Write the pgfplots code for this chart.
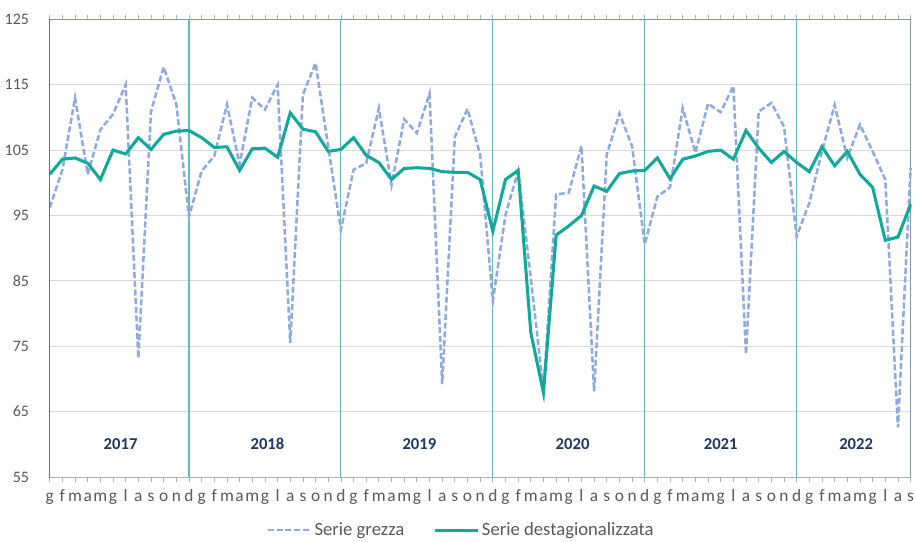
\documentclass[border=0pt]{standalone}
\usepackage{pgfplots}
\pgfplotsset{compat=1.18}
\usepackage{pgfplotstable}
\usepackage{fontspec}
\setmainfont{Carlito}
\definecolor{grezza}{RGB}{143,170,220}
\definecolor{destag}{RGB}{17,168,158}
\definecolor{sep}{RGB}{95,190,184}
\definecolor{gridc}{RGB}{217,217,217}
\definecolor{framec}{RGB}{132,151,176}
\definecolor{leftax}{RGB}{68,114,196}
\definecolor{tickc}{RGB}{89,89,89}
\definecolor{yearc}{RGB}{31,56,100}

\pgfplotstableread{
i grezza destag
0 96.2 101.3
1 102.0 103.6
2 113.0 103.8
3 101.3 103.0
4 108.1 100.5
5 110.5 105.0
6 115.0 104.4
7 73.2 106.9
8 110.9 105.1
9 117.7 107.4
10 112.0 107.9
11 94.8 108.0
12 101.8 106.9
13 104.1 105.4
14 112.0 105.5
15 102.8 101.9
16 113.0 105.2
17 111.2 105.3
18 115.0 103.9
19 75.5 110.7
20 113.5 108.2
21 118.3 107.8
22 105.5 104.8
23 92.8 105.1
24 102.0 106.9
25 103.0 104.2
26 111.4 103.1
27 99.7 100.5
28 109.7 102.2
29 107.6 102.3
30 113.6 102.2
31 69.2 101.7
32 107.0 101.6
33 111.3 101.6
34 104.3 100.5
35 81.9 92.6
36 95.1 100.5
37 101.8 101.9
38 85.5 77.1
39 68.2 67.9
40 98.2 92.0
41 98.5 93.4
42 105.6 95.0
43 68.1 99.5
44 104.3 98.7
45 110.6 101.4
46 105.6 101.8
47 90.6 101.9
48 97.9 103.8
49 99.3 100.6
50 111.4 103.6
51 104.6 104.1
52 112.1 104.8
53 110.8 105.0
54 114.8 103.6
55 73.8 108.0
56 110.9 105.3
57 112.2 103.1
58 108.6 104.8
59 91.8 103.1
60 96.9 101.7
61 104.8 105.5
62 111.9 102.6
63 103.8 104.8
64 108.9 101.3
65 104.8 99.3
66 100.5 91.2
67 62.6 91.7
68 102.3 96.7
}\datatable

\begin{document}
\begin{tikzpicture}
\begin{axis}[
  scale only axis,
  width=645.7pt, height=343.3pt,
  xmin=0, xmax=68, ymin=55, ymax=125,
  ytick={55,65,...,125},
  xtick={0,...,68},
  xticklabels={g,f,m,a,m,g,l,a,s,o,n,d,g,f,m,a,m,g,l,a,s,o,n,d,g,f,m,a,m,g,l,a,s,o,n,d,g,f,m,a,m,g,l,a,s,o,n,d,g,f,m,a,m,g,l,a,s,o,n,d,g,f,m,a,m,g,l,a,s},
  extra x ticks={11,23,35,47,59},
  extra x tick labels={},
  extra x tick style={grid=major, major grid style={draw=sep, line width=0.8pt}, tick style={draw=none}},
  ymajorgrids,
  major grid style={draw=gridc, line width=0.75pt},
  tick align=outside,
  major tick length=3.5pt,
  xtick style={draw=gridc!80!black, line width=0.6pt},
  ytick style={draw=none},
  axis line style={draw=framec, line width=0.75pt},
  yticklabel style={font=\fontsize{12}{14}\selectfont, text=tickc, xshift=-8.5pt},
  xticklabel style={font=\fontsize{13}{15}\selectfont, text=tickc, text height=1.6ex, text depth=0.4ex, yshift=-3.5pt},
  /pgf/number format/assume math mode=true,
  legend style={at={(0.5,0)}, anchor=north, xshift=-14pt, yshift=-30pt, draw=none, fill=none,
    font=\fontsize{14}{16}\selectfont, text=tickc, legend columns=2,
    /tikz/every even column/.append style={column sep=20pt}},
  legend image code/.code={\draw[#1] (0pt,0pt) -- (32pt,0pt);},
  clip=false,
]
\addplot[grezza, line width=1.9pt, dash pattern=on 4.5pt off 2pt] table[x=i, y=grezza] {\datatable};
\addlegendentry{Serie grezza}
\addplot[destag, line width=2.3pt] table[x=i, y=destag] {\datatable};
\addlegendentry{Serie destagionalizzata}
\draw[leftax, line width=0.9pt] (rel axis cs:0,0) -- (rel axis cs:0,1);
\draw[gridc!80!black, line width=0.75pt] (rel axis cs:0,0) -- (rel axis cs:1,0);
\node[text=yearc, font=\fontsize{12.5}{14}\selectfont\bfseries] at (axis cs:5.6,60.1) {2017};
\node[text=yearc, font=\fontsize{12.5}{14}\selectfont\bfseries] at (axis cs:17.2,60.1) {2018};
\node[text=yearc, font=\fontsize{12.5}{14}\selectfont\bfseries] at (axis cs:29.2,60.1) {2019};
\node[text=yearc, font=\fontsize{12.5}{14}\selectfont\bfseries] at (axis cs:41.3,60.1) {2020};
\node[text=yearc, font=\fontsize{12.5}{14}\selectfont\bfseries] at (axis cs:53,60.1) {2021};
\node[text=yearc, font=\fontsize{12.5}{14}\selectfont\bfseries] at (axis cs:63.7,60.1) {2022};
\end{axis}
\pgfresetboundingbox
\path[use as bounding box] (-37.3pt,-48pt) rectangle (649pt,357.8pt);
\end{tikzpicture}
\end{document}
